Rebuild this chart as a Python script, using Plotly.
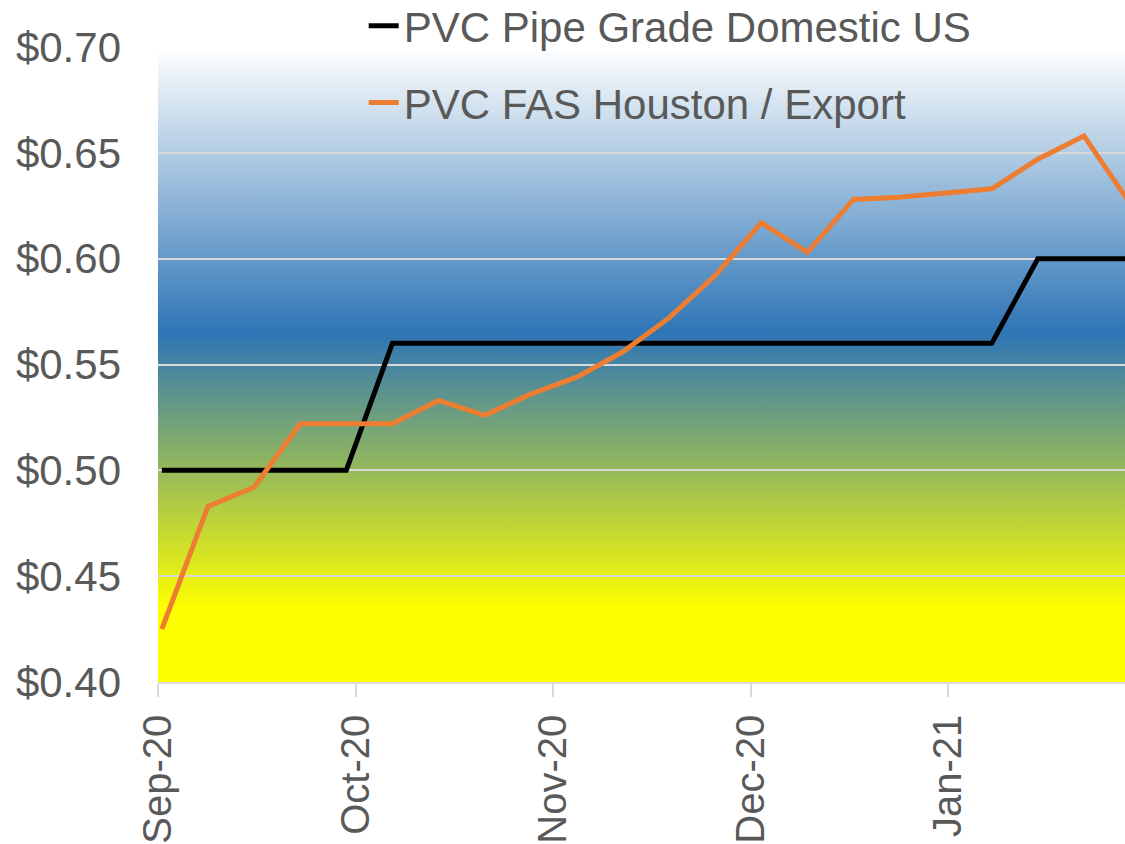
import base64
import plotly.graph_objects as go

# ---- data ----
week_dates = [
    "2020-09-04", "2020-09-11", "2020-09-18", "2020-09-25",
    "2020-10-02", "2020-10-09", "2020-10-16", "2020-10-23", "2020-10-30",
    "2020-11-06", "2020-11-13", "2020-11-20", "2020-11-27",
    "2020-12-04", "2020-12-11", "2020-12-18", "2020-12-25",
    "2021-01-01", "2021-01-08", "2021-01-15", "2021-01-22", "2021-01-29",
]
pipe_grade_domestic = [
    0.50, 0.50, 0.50, 0.50, 0.50,
    0.56, 0.56, 0.56, 0.56, 0.56, 0.56, 0.56, 0.56, 0.56, 0.56, 0.56, 0.56, 0.56, 0.56,
    0.60, 0.60, 0.60,
]
fas_houston_export = [
    0.425, 0.483, 0.492, 0.522, 0.522, 0.522, 0.533, 0.526, 0.536, 0.544, 0.556,
    0.572, 0.592, 0.617, 0.603, 0.628, 0.629, 0.631, 0.633, 0.647, 0.658, 0.626,
]
series_names = ["PVC Pipe Grade Domestic US", "PVC FAS Houston / Export"]
y_range = [0.40, 0.70]
y_dtick = 0.05

FONT = "Liberation Sans, Arial, sans-serif"
GREY = "#595959"
GRID = "#d9d9d9"

fig = go.Figure()
fig.add_trace(go.Scatter(
    x=week_dates, y=pipe_grade_domestic, mode="lines", name=series_names[0],
    line=dict(color="#000000", width=5), legendgroup="a",
))
fig.add_trace(go.Scatter(
    x=week_dates, y=fas_houston_export, mode="lines", name=series_names[1],
    line=dict(color="#ED7D31", width=5), legendgroup="b",
))

# vertical gradient background for the plot area
svg = (
    '<svg xmlns="http://www.w3.org/2000/svg" width="100" height="100" preserveAspectRatio="none">'
    '<defs><linearGradient id="g" x1="0" y1="0" x2="0" y2="1">'
    '<stop offset="0" stop-color="#ffffff"/>'
    '<stop offset="0.45" stop-color="#2e75b6"/>'
    '<stop offset="0.885" stop-color="#ffff00"/>'
    '<stop offset="1" stop-color="#ffff00"/>'
    '</linearGradient></defs>'
    '<rect x="0" y="0" width="100" height="100" fill="url(#g)"/></svg>'
)
svg_uri = "data:image/svg+xml;base64," + base64.b64encode(svg.encode()).decode()

fig.update_layout(
    width=1125, height=844,
    margin=dict(l=158, r=0, t=47, b=162, autoexpand=False),
    paper_bgcolor="#ffffff",
    plot_bgcolor="rgba(0,0,0,0)",
    font=dict(family=FONT, size=42, color=GREY),
    showlegend=True,
    legend=dict(
        x=0.2127, y=1.0866, xanchor="left", yanchor="top",
        bgcolor="rgba(0,0,0,0)", borderwidth=0,
        font=dict(family=FONT, size=42, color=GREY),
        tracegroupgap=19, traceorder="grouped",
        itemwidth=30,
    ),
    images=[dict(
        source=svg_uri, xref="paper", yref="paper", x=0, y=1,
        sizex=1, sizey=1, xanchor="left", yanchor="top",
        sizing="stretch", layer="below",
    )],
)

fig.update_xaxes(
    type="date", automargin=False,
    range=["2020-09-03 10:00", "2021-01-28 05:30"],
    tick0="2020-09-03 10:00", dtick=30 * 86400000,
    tickformat="%b-%y", tickangle=-90,
    ticks="outside", ticklen=13, tickwidth=1.5, tickcolor=GRID,
    showline=True, linecolor=GRID, linewidth=1.5,
    showgrid=False, zeroline=False,
    tickfont=dict(family=FONT, size=40, color=GREY),
    ticklabelstandoff=2,
)
fig.update_yaxes(
    automargin=False,
    range=y_range, dtick=y_dtick, tick0=0.40,
    tickprefix="$", tickformat=".2f",
    showgrid=True, gridcolor=GRID, gridwidth=1.5,
    zeroline=False, showline=False, ticks="",
    tickfont=dict(family=FONT, size=42, color=GREY),
    ticklabelstandoff=36,
)

fig.write_html(
    "out.html",
    config={"displayModeBar": False},
    post_script="document.body.style.margin='0';document.body.style.overflow='hidden';",
)
